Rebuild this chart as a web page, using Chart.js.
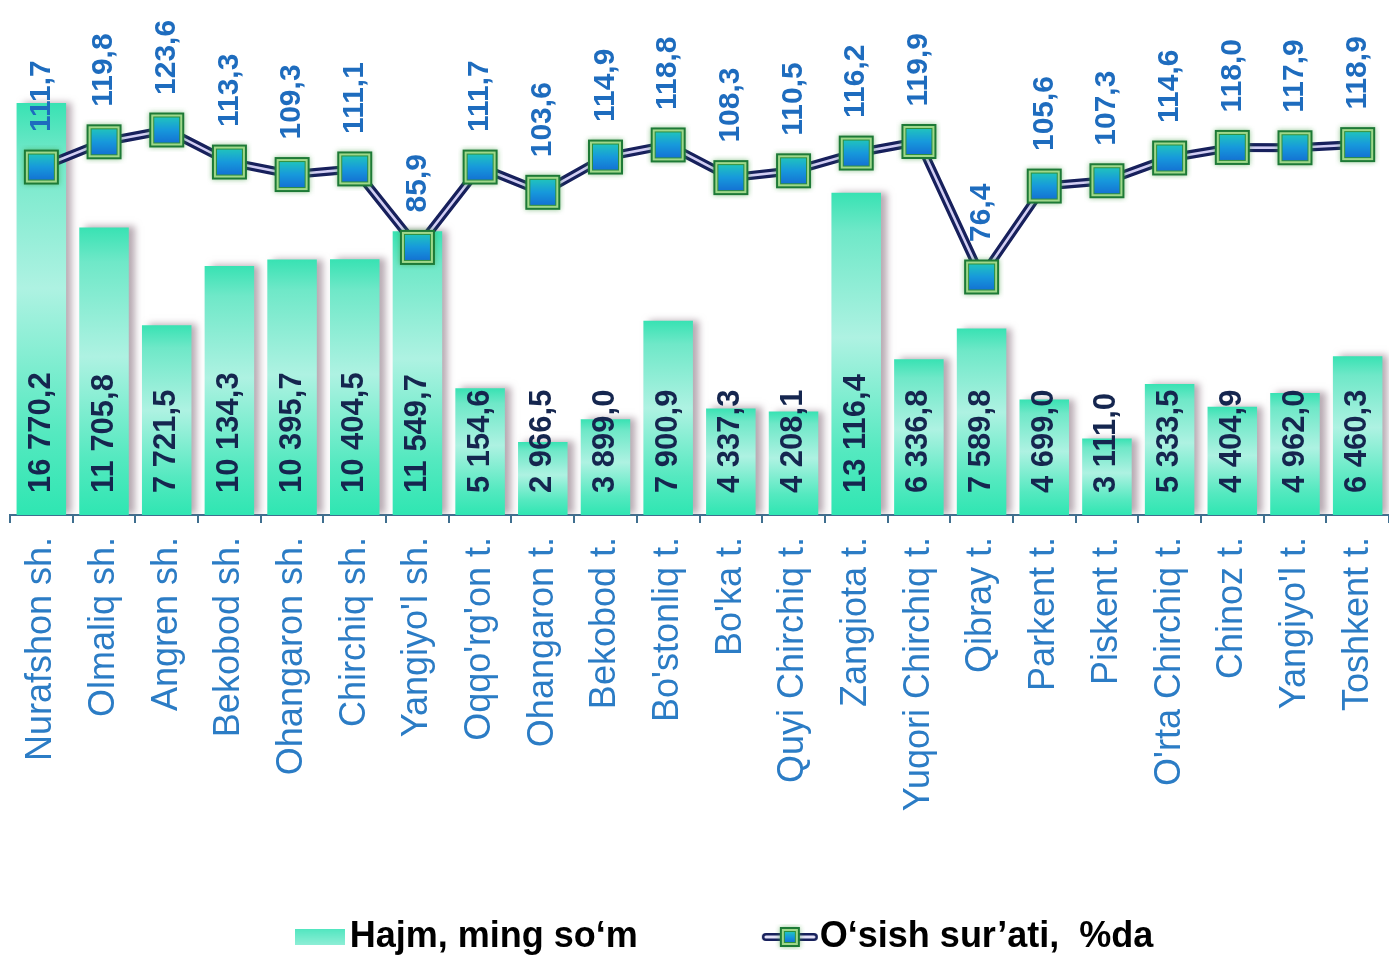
<!DOCTYPE html>
<html><head><meta charset="utf-8">
<script src="https://cdn.jsdelivr.net/npm/chart.js@4.4.1/dist/chart.umd.min.js"></script>
<style>html,body{margin:0;padding:0;background:#fff;}#wrap{width:1389px;height:955px;}</style>
</head><body><div id="wrap"><canvas id="c" width="1389" height="955"></canvas></div>
<script>
const categories = ["Nurafshon sh.","Olmaliq sh.","Angren sh.","Bekobod sh.","Ohangaron sh.","Chirchiq sh.","Yangiyo'l sh.","Oqqo'rg'on t.","Ohangaron t.","Bekobod t.","Bo'stonliq t.","Bo'ka t.","Quyi Chirchiq t.","Zangiota t.","Yuqori Chirchiq t.","Qibray t.","Parkent t.","Piskent t.","O'rta Chirchiq t.","Chinoz t.","Yangiyo'l t.","Toshkent t."];
const volume = [16770.2,11705.8,7721.5,10134.3,10395.7,10404.5,11549.7,5154.6,2966.5,3899.0,7900.9,4337.3,4208.1,13116.4,6336.8,7589.8,4699.0,3111.0,5333.5,4404.9,4962.0,6460.3];
const growth = [111.7,119.8,123.6,113.3,109.3,111.1,85.9,111.7,103.6,114.9,118.8,108.3,110.5,116.2,119.9,76.4,105.6,107.3,114.6,118.0,117.9,118.9];
const seriesNames = ["Hajm, ming so\u2018m","O\u2018sish sur\u2019ati,  %da"];

function fmt(v){const p=v.toFixed(1).split('.');return p[0].replace(/\B(?=(\d{3})+(?!\d))/g,' ')+','+p[1];}

function makeMarker(size){
  const pad=5,c=document.createElement('canvas');c.width=c.height=size+pad*2;const g=c.getContext('2d');
  g.shadowColor='rgba(70,160,70,0.6)';g.shadowBlur=5;
  g.fillStyle='#1d7a36';g.fillRect(pad,pad,size,size);
  g.shadowColor='transparent';g.shadowBlur=0;
  g.fillStyle='#9fd88a';g.fillRect(pad+2,pad+2,size-4,size-4);
  g.fillStyle='#2e8f3e';g.fillRect(pad+4,pad+4,size-8,size-8);
  const gr=g.createLinearGradient(0,pad+5,0,pad+size-5);
  gr.addColorStop(0,'#20c2bf');gr.addColorStop(0.5,'#1799dc');gr.addColorStop(1,'#1474d4');
  g.fillStyle=gr;g.fillRect(pad+5,pad+5,size-10,size-10);
  return c;
}
const marker = makeMarker(35);
function barIcon(){const c=document.createElement('canvas');c.width=50;c.height=16;const g=c.getContext('2d');
  const gr=g.createLinearGradient(0,0,0,16);gr.addColorStop(0,'#52e6c0');gr.addColorStop(1,'#8eeed6');g.fillStyle=gr;g.fillRect(0,0,50,16);return c;}
function lineIcon(){const c=document.createElement('canvas');c.width=58;c.height=26;const g=c.getContext('2d');
  g.lineCap='round';g.strokeStyle='#17205c';g.lineWidth=8;g.beginPath();g.moveTo(5,13);g.lineTo(53,13);g.stroke();
  g.strokeStyle='#e4e2f8';g.lineWidth=3;g.beginPath();g.moveTo(5,13);g.lineTo(53,13);g.stroke();
  const m=makeMarker(20);g.drawImage(m,29-m.width/2,13-m.height/2);return c;}
function blankIcon(){const c=document.createElement('canvas');c.width=1;c.height=1;return c;}

const barShadow={id:'barShadow',
  beforeDatasetDraw(chart,args){if(args.index===0){const c=chart.ctx;c.save();c.shadowColor='rgba(125,100,115,0.55)';c.shadowBlur=7;c.shadowOffsetX=6;c.shadowOffsetY=-1;}},
  afterDatasetDraw(chart,args){if(args.index===0)chart.ctx.restore();}};

const valueLabels={id:'valueLabels',afterDatasetsDraw(chart){
  const ctx=chart.ctx;ctx.save();ctx.textBaseline='middle';ctx.textAlign='left';
  ctx.font='bold 31px "Liberation Sans", Arial, sans-serif';
  chart.getDatasetMeta(0).data.forEach((el,i)=>{ctx.save();ctx.translate(el.x,el.base-22);ctx.rotate(-Math.PI/2);ctx.fillStyle='#15264f';ctx.fillText(fmt(volume[i]),0,0);ctx.restore();});
  ctx.font='bold 30px "Liberation Sans", Arial, sans-serif';
  chart.getDatasetMeta(3).data.forEach((el,i)=>{ctx.save();ctx.translate(el.x,el.y-35);ctx.rotate(-Math.PI/2);ctx.fillStyle='#1e6cbe';ctx.fillText(fmt(growth[i]),0,0);ctx.restore();});
  ctx.restore();}};

new Chart(document.getElementById('c'),{
  data:{labels:categories,datasets:[
    {type:'bar',label:seriesNames[0],data:volume,yAxisID:'y',order:3,barPercentage:0.79,categoryPercentage:1.0,
     backgroundColor:(ctx)=>{const ch=ctx.chart;if(!ch.chartArea||ctx.type!=='data')return '#3ee6b8';
       const y=ch.scales.y;const top=y.getPixelForValue(ctx.raw),base=y.getPixelForValue(0);
       const g=ch.ctx.createLinearGradient(0,top,0,base);
       g.addColorStop(0,'#38e2b3');g.addColorStop(0.12,'#6fe8c8');g.addColorStop(0.45,'#aef2e2');g.addColorStop(0.8,'#55e9c0');g.addColorStop(1,'#2fe6b2');return g;}},
    {type:'line',label:'outer',data:growth,yAxisID:'y1',order:2,borderColor:'#17205c',borderWidth:9,pointRadius:0,tension:0},
    {type:'line',label:'inner',data:growth,yAxisID:'y1',order:1,borderColor:'#d2cef4',borderWidth:2.5,pointRadius:0,tension:0},
    {type:'line',label:seriesNames[1],data:growth,yAxisID:'y1',order:0,showLine:false,pointStyle:marker,pointRadius:17}
  ]},
  options:{responsive:false,animation:false,devicePixelRatio:1,
    layout:{autoPadding:false,padding:{left:10,right:0,top:15,bottom:-10}},
    scales:{
      x:{grid:{display:true,drawOnChartArea:false,tickLength:8,color:'#3f6f8f',lineWidth:2,offset:true},
         border:{display:true,color:'#3f6f8f',width:2},
         ticks:{minRotation:90,maxRotation:90,autoSkip:false,color:'#2b7cc5',font:{family:'"Liberation Sans", Arial, sans-serif',size:36},padding:14},
         afterFit:(s)=>{s.height=384;s.paddingLeft=0;s.paddingRight=0;}},
      y:{display:false,min:0,max:20350},
      y1:{display:false,min:0,max:160.5,position:'right'}
    },
    plugins:{tooltip:{enabled:false},
      legend:{position:'bottom',align:'center',
        labels:{usePointStyle:true,pointStyleWidth:24,padding:20,color:'#1b2550',font:{family:'"Liberation Sans", Arial, sans-serif',size:36,weight:'bold'},
          generateLabels:()=>[
            {text:'',pointStyle:blankIcon(),fillStyle:'rgba(0,0,0,0)',strokeStyle:'rgba(0,0,0,0)',lineWidth:0,hidden:false},
            {text:seriesNames[0]+'            ',pointStyle:barIcon(),fillStyle:'#5ee8c2',strokeStyle:'rgba(0,0,0,0)',lineWidth:0,hidden:false,datasetIndex:0},
            {text:seriesNames[1],pointStyle:lineIcon(),fillStyle:'#1799dc',strokeStyle:'rgba(0,0,0,0)',lineWidth:0,hidden:false,datasetIndex:3}
          ]}}}
  },
  plugins:[barShadow,valueLabels]
});
</script></body></html>
